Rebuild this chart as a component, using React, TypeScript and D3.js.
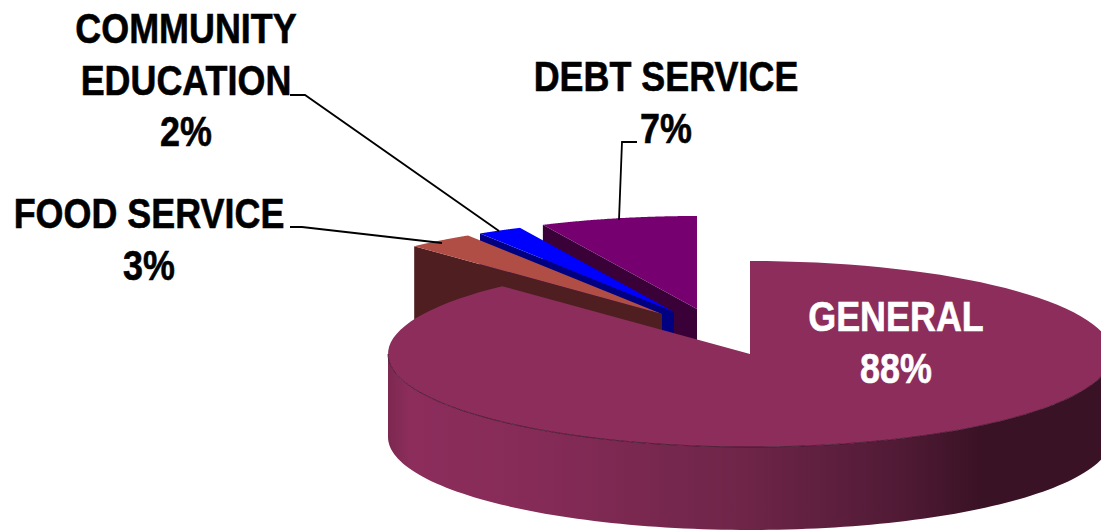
import React from "react";
import * as d3 from "d3";

const categories = ["GENERAL", "FOOD SERVICE", "COMMUNITY EDUCATION", "DEBT SERVICE"];
const shares = [88, 3, 2, 7];
const labelLines = [["GENERAL"], ["FOOD SERVICE"], ["COMMUNITY", "EDUCATION"], ["DEBT SERVICE"]];

const topColors = ["#8C2D5C", "#B04E45", "#0000FF", "#760070"];
const wallColors = ["#8C2D5C", "#4E1E20", "#000080", "#3A0038"];
const apexX = [750, 662, 674, 697];
const apexY = [354, 314, 312, 309];
const labelX = [896, 149, 186, 666];
const labelY = [331, 228, 43, 91];
const labelFill = ["#fff", "#000", "#000", "#000"];
const leaders: ([number, number][] | null)[] = [
  null,
  [[290, 227], [302, 227], [442, 243]],
  [[290, 95], [305, 95], [499, 231]],
  [[637, 142], [622, 142], [619, 220]],
];

const W = 1101, H = 530, RX = 362, RY = 93, DEPTH = 83, LINE = 51.5, FONT = 43, SQUEEZE = 0.835;

const pie = d3.pie<number>().sort(null).startAngle(0).endAngle(2 * Math.PI);
const rimX = d3.scaleLinear().domain([-1, 1]).range([-RX, RX]);
const rimY = d3.scaleLinear().domain([-1, 1]).range([-RY, RY]);
const line = d3.line();

const rim = (i: number, a: number, dy = 0): [number, number] => [
  apexX[i] + rimX(Math.sin(a)),
  apexY[i] + rimY(-Math.cos(a)) + dy,
];
const arcPoints = (i: number, a0: number, a1: number, dy = 0) =>
  d3.range(0, 121).map((k) => rim(i, a0 + ((a1 - a0) * k) / 120, dy));

export default function App() {
  const arcs = pie(shares);
  const frontA0 = Math.PI / 2;
  const frontA1 = Math.PI * 1.5;
  const order = [3, 2, 1, 0];
  return (
    <svg width={W} height={H} viewBox={`0 0 ${W} ${H}`} style={{ position: "absolute", left: 0, top: 0, display: "block", background: "#fff" }}>
      <defs>
        <linearGradient id="wall" gradientUnits="userSpaceOnUse" x1={388} x2={1101} y1={0} y2={0}>
          <stop offset="0" stopColor="#7C2850" />
          <stop offset="0.03" stopColor="#8C2D5C" />
          <stop offset="0.2" stopColor="#862B58" />
          <stop offset="0.5" stopColor="#6E2548" />
          <stop offset="0.72" stopColor="#501A35" />
          <stop offset="0.83" stopColor="#3A1225" />
          <stop offset="1" stopColor="#3A1225" />
        </linearGradient>
      </defs>
      {order.map((i) => {
        const { startAngle: a0, endAngle: a1 } = arcs[i];
        const apex: [number, number] = [apexX[i], apexY[i]];
        const top = [apex, ...arcPoints(i, a0, a1)];
        if (i === 0) {
          const front = arcPoints(0, frontA0, frontA1);
          const back = arcPoints(0, frontA1, frontA0, DEPTH);
          return (
            <g key={i}>
              <path d={line([...front, ...back])! + "Z"} fill="url(#wall)" />
              <path d={line(top)! + "Z"} fill={topColors[i]} />
              <path d={line(front)!} fill="none" stroke="#3A1225" strokeWidth={1} strokeOpacity={0.8} />
            </g>
          );
        }
        const outer = rim(i, a0);
        const wall: [number, number][] = [outer, apex, [apex[0], apex[1] + DEPTH], [outer[0], outer[1] + DEPTH]];
        return (
          <g key={i}>
            <path d={line(wall)! + "Z"} fill={wallColors[i]} />
            <path d={line(top)! + "Z"} fill={topColors[i]} />
          </g>
        );
      })}
      {leaders.map((pts, i) =>
        pts ? <path key={i} d={line(pts)!} fill="none" stroke="#000" strokeWidth={1.8} /> : null
      )}
      <g fontFamily="'Liberation Sans', Arial, sans-serif" fontWeight={700} fontSize={FONT} textAnchor="middle">
        {categories.map((c, i) =>
          [...labelLines[i], `${shares[i]}%`].map((t, j) => (
            <text
              key={c + j}
              transform={`translate(${labelX[i]},${labelY[i] + j * LINE}) scale(${SQUEEZE},1)`}
              fill={labelFill[i]}
              stroke={labelFill[i]}
              strokeWidth={0.6}
            >
              {t}
            </text>
          ))
        )}
      </g>
    </svg>
  );
}
